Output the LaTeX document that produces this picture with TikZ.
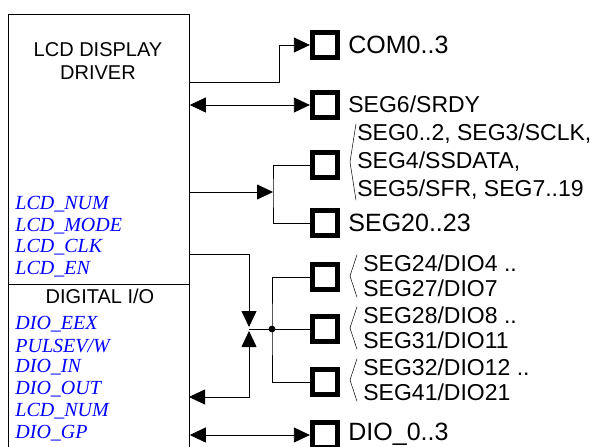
\documentclass[tikz,border=0pt]{standalone}
\usepackage{fontspec}
\setmainfont{Liberation Sans}
\newfontfamily\sigfont{Liberation Serif}
\usetikzlibrary{arrows.meta, positioning, calc}

\tikzset{
  pin/.style={draw, line width=4.8pt, minimum size=25.5pt, inner sep=0pt},
  sig/.style={font=\sigfont\itshape\fontsize{20}{22}\selectfont, text=blue, anchor=west, inner sep=0pt},
  big/.style={font=\fontsize{25}{28}\selectfont, anchor=west, inner sep=0pt},
  small/.style={font=\fontsize{23}{25}\selectfont, anchor=west, inner sep=0pt, align=left},
  tip/.style={-{Triangle[length=16pt, width=15pt]}},
  tips/.style={{Triangle[length=16pt, width=15pt]}-{Triangle[length=16pt, width=15pt]}},
}

\begin{document}
\begin{tikzpicture}[x=1pt, y=-1pt, line width=0.8pt]
\useasboundingbox (0,0) rectangle (597,447);
\clip (0,0) rectangle (597,447);

% driver block
\node[draw, anchor=north west, minimum width=181pt, minimum height=470pt, inner sep=0pt] (drv) at (8,14) {};
\draw (drv.west |- 0,284) -- (drv.east |- 0,284);
\node[font=\fontsize{20}{23}\selectfont, align=center] (ttl) at (98,61) {LCD DISPLAY\\DRIVER};
\node[font=\fontsize{20}{23}\selectfont] (dgt) at (100,296) {DIGITAL I/O};

\foreach \t [count=\i] in {LCD\_NUM, LCD\_MODE, LCD\_CLK, LCD\_EN}
  \node[sig] (lcd\i) at (15, 182.3+21.7*\i) {\t};
\foreach \t [count=\i] in {DIO\_EEX, PULSEV/W, DIO\_IN, DIO\_OUT, LCD\_NUM, DIO\_GP}
  \node[sig] (dio\i) at (15, 302.2+21.8*\i) {\t};

% pads
\foreach \n/\y in {com/45, srdy/105, seg/165, segb/223, da/277, db/329, dc/382, dio/435}
  \node[pin] (\n) at (325,\y) {};

\node[big] (tcom) at (348,45) {COM0..3};
\node[small] (tsrdy) at (348,104) {SEG6/SRDY};
\node[small, font=\fontsize{23}{28}\selectfont] (tseg) at (357,162) {SEG0..2, SEG3/SCLK,\\SEG4/SSDATA,\\SEG5/SFR, SEG7..19};
\node[big] (tsegb) at (348,223) {SEG20..23};
\node[small] (tda) at (363,276) {SEG24/DIO4 ..\\SEG27/DIO7};
\node[small] (tdb) at (363,328) {SEG28/DIO8 ..\\SEG31/DIO11};
\node[small] (tdc) at (363,380) {SEG32/DIO12 ..\\SEG41/DIO21};
\node[big] (tdio) at (348,434) {DIO\_0..3};

\foreach \n/\a/\b in {tseg/1/7, tda/6/13, tdb/6/13, tdc/6/13}
  \draw[line width=0.5pt] ($(\n.north west)+(-\a,0)$) -- ($(\n.west)+(-\b,0)$) -- ($(\n.south west)+(-\a,0)$);

% connectors
\coordinate (pcom) at (189,82);
\coordinate (pseg) at (189,192);
\coordinate (jseg) at (273,192);
\coordinate (pen) at (189,254);
\coordinate (pout) at (189,397);
\coordinate (jmid) at (249,329);
\coordinate (jdot) at (272,329);

\draw[tip] (pcom) -- ++(90,0) |- (com.west);
\draw[tips] (drv.east |- srdy) -- (srdy.west);
\draw[tip] (pseg) -- (jseg);
\draw (seg.west) -| (jseg) |- (segb.west);
\draw[tip] (pen) -| ($(jmid)+(0,-2)$);
\draw[tips] (pout) -| ($(jmid)+(0,2)$);
\draw (jmid) -- (db.west);
\draw (da.west) -| (jdot) |- (dc.west);
\fill (jdot) circle (3.4pt);
\draw[tips] (drv.east |- dio) -- (dio.west);
\end{tikzpicture}
\end{document}
